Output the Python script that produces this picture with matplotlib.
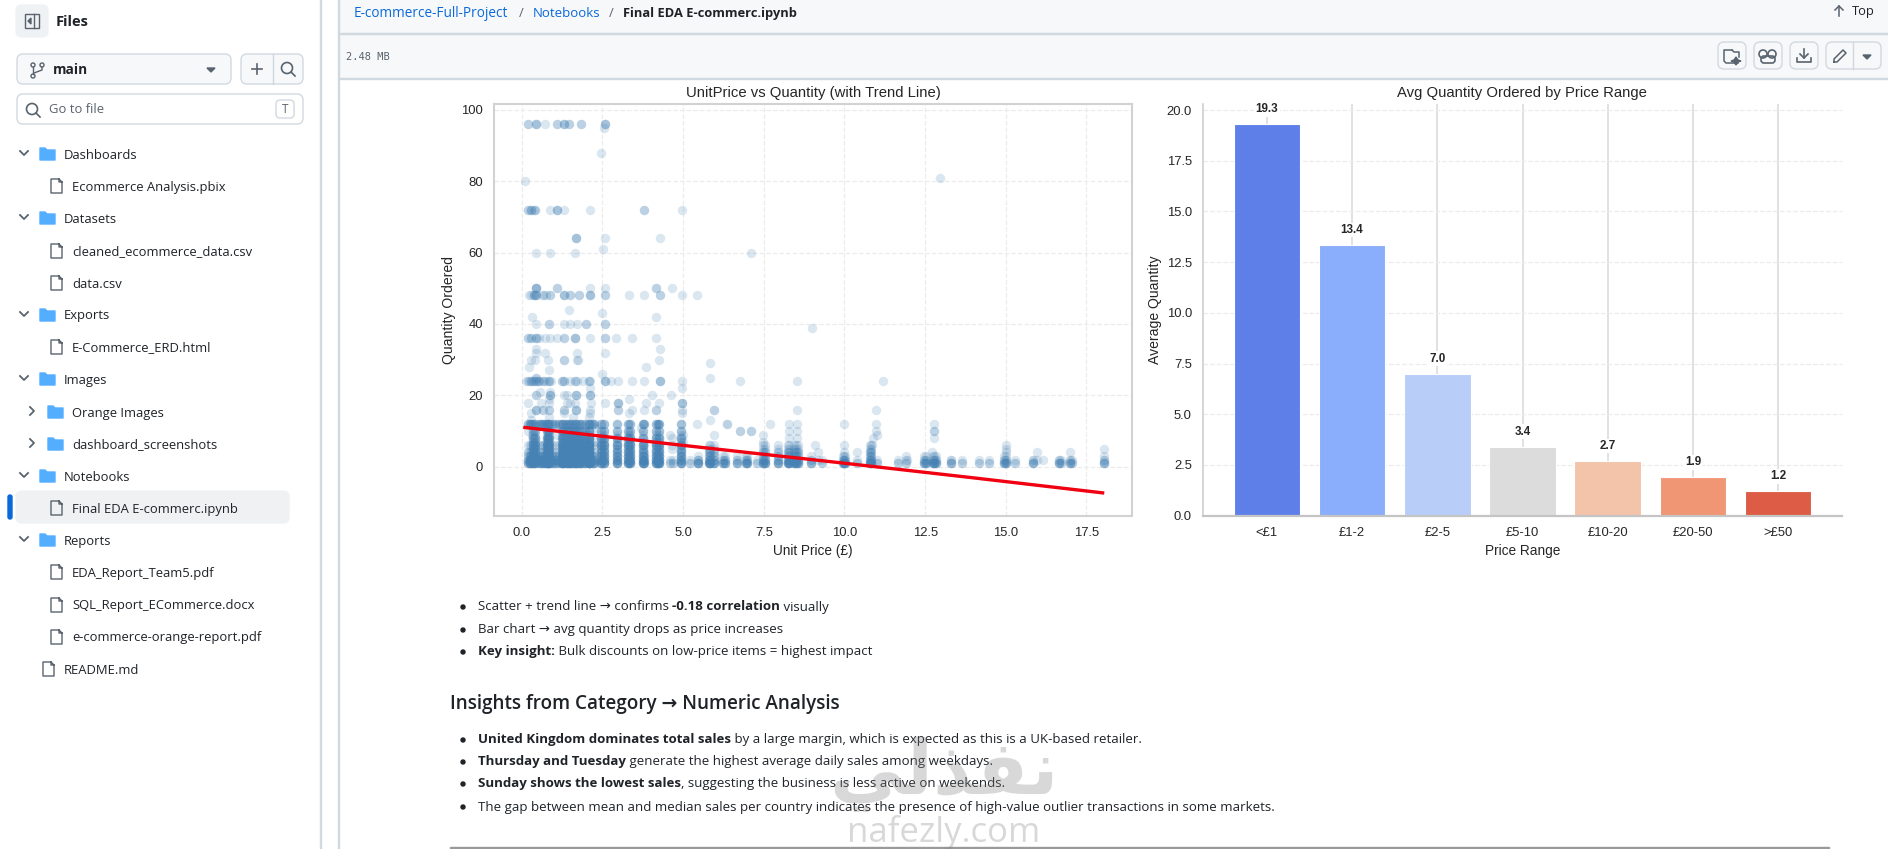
import matplotlib
matplotlib.use("Agg")
from matplotlib import pyplot as plt
from matplotlib.patches import Circle, FancyBboxPatch, Polygon, Rectangle

W, H = 1888, 849
UI_FONT = ["Open Sans", "DejaVu Sans"]
CHART_FONT = ["Liberation Sans", "DejaVu Sans"]

# Scatter values. A price listed twice is a darker dot.
row_quantities = [96, 95, 88, 81, 80, 72, 64, 61, 60, 50, 48, 44, 43, 42, 40, 39, 36, 33, 32, 30, 29, 28, 27, 26, 25, 24, 22, 21, 20, 19, 18, 16, 15, 14, 13]
row_96 = [0.18, 0.18, 0.43, 0.43, 0.43, 0.73, 1.1, 1.1, 1.3, 1.3, 1.3, 1.47, 1.47, 1.84, 1.84, 2.58, 2.58, 2.58]
row_95 = [2.55]
row_88 = [2.46]
row_81 = [12.95]
row_80 = [0.1]
row_72 = [0.18, 0.18, 0.3, 0.3, 0.3, 0.38, 0.41, 0.41, 0.87, 1.1, 1.1, 1.1, 1.3, 2.12, 3.78, 3.78, 4.97]
row_64 = [1.69, 1.69, 1.69, 2.58, 4.28]
row_61 = [2.53]
row_60 = [0.43, 0.87, 1.66, 7.1]
row_50 = [0.45, 0.45, 0.45, 0.45, 1.1, 1.1, 2.12, 2.58, 4.17, 4.17, 4.67]
row_48 = [0.23, 0.3, 0.37, 0.37, 0.37, 0.44, 0.44, 0.44, 0.65, 0.65, 0.75, 0.87, 0.87, 1.3, 1.3, 1.3, 1.5, 1.5, 1.79, 1.79, 2.12, 2.12, 2.12, 2.58, 2.58, 3.32, 3.78, 4.28, 4.28, 4.97, 5.42]
row_44 = [1.48]
row_43 = [2.48]
row_42 = [0.31, 4.17]
row_40 = [0.44, 0.84, 0.84, 1.3, 1.5, 1.72, 1.98, 1.98, 2.58, 2.58]
row_39 = [8.98]
row_36 = [0.18, 0.18, 0.3, 0.3, 0.44, 0.44, 0.44, 0.55, 0.73, 0.87, 1.08, 1.3, 1.3, 1.66, 1.66, 1.66, 2.12, 2.58, 2.58, 2.92, 3.41, 4.17]
row_33 = [0.43, 4.28]
row_32 = [0.43, 0.73, 1.72, 2.58]
row_30 = [0.3, 0.4, 0.81, 1.3, 1.3, 1.72, 1.76, 4.25]
row_29 = [5.83]
row_28 = [0.23, 3.84]
row_27 = [0.84]
row_26 = [2.48]
row_25 = [0.44, 0.44, 5.83]
row_24 = [0.12, 0.18, 0.23, 0.28, 0.28, 0.33, 0.38, 0.38, 0.44, 0.44, 0.5, 0.55, 0.55, 0.65, 0.65, 0.72, 0.8, 0.85, 0.85, 0.9, 1.25, 1.25, 1.3, 1.3, 1.5, 1.66, 1.66, 1.7, 1.9, 2.1, 2.1, 2.12, 2.58, 2.58, 2.58, 2.78, 2.97, 3.41, 3.78, 4.28, 4.28, 4.28, 4.97, 6.77, 8.52, 11.18]
row_22 = [4.98, 2.12]
row_21 = [0.58, 0.87]
row_20 = [0.44, 0.44, 0.87, 0.87, 0.87, 1.3, 1.4, 1.68, 1.68, 1.68, 2.12, 2.12, 2.12, 4.04, 4.64]
row_19 = [0.85, 3.32]
row_18 = [0.2, 0.6, 0.85, 1.4, 1.5, 1.66, 2.15, 2.58, 2.97, 2.97, 2.97, 3.84, 4.25, 4.97, 4.97, 4.97]
row_16 = [0.44, 0.44, 0.44, 0.65, 0.65, 0.85, 0.85, 1.3, 1.3, 1.68, 1.68, 1.68, 2.12, 2.97, 2.97, 3.41, 3.78, 4.17, 4.17, 4.97, 5.96, 8.52, 10.97]
row_15 = [0.3, 1.3, 2.12, 3.32, 4.97]
row_14 = [0.85, 1.6, 2.1]
row_13 = [0.3, 5.83]

# Lower block, column by column: prices that share the same stack of quantities
tall_prices = [0.36, 0.42, 0.79, 0.83, 0.85, 1.25, 1.29, 1.38, 1.45, 1.49, 1.55, 1.65, 1.69, 1.79, 1.85, 1.95, 2.08, 2.1, 2.46, 2.55, 2.95, 3.29, 3.35, 3.75, 4.15, 4.25, 4.95]
tall_stack = [1, 1, 1, 1, 1, 1, 2, 2, 2, 2, 2, 3, 3, 3, 3, 3, 4, 4, 4, 4, 5, 5, 5, 6, 6, 6, 6, 6, 7, 7, 8, 8, 8, 8, 9, 10, 10, 10, 12, 12, 12]
thin_prices = [0.19, 0.25, 0.29, 0.55, 0.59, 0.65, 0.72, 0.95, 1.03, 1.17, 2.17, 2.25, 3.79, 4.21]
thin_stack = [1, 1, 1, 1, 2, 2, 2, 3, 3, 4, 6, 12, 12, 12]
mid_prices = [5.79, 5.85, 5.95, 7.48, 7.53, 7.95, 8.25, 8.29, 8.45, 8.5, 8.55, 10.79, 10.83]
mid_stack = [1, 1, 1, 1, 1, 2, 2, 2, 3, 3, 4, 4, 5, 6]
low_prices = [5.45, 6.25, 6.29, 6.67, 6.95, 6.98, 8.95, 9.95, 9.99, 10.02, 12.46, 12.54, 12.75, 12.79, 12.83, 14.95, 15.0]
low_stack = [1, 1, 1, 1, 2, 2, 3]
single_prices = [4.6, 4.68, 5.2, 5.46, 7.3, 9.3, 10.4, 11.0, 11.65, 11.9, 13.3, 13.3, 13.63, 14.17, 14.48, 15.3, 15.84, 15.84, 16.66, 16.66, 16.7, 17.0, 17.0, 17.04, 18.04, 18.04]
single_stack = [1, 1, 2]
extra_x = [4.66, 4.66, 4.66, 5.42, 5.96, 5.96, 6.35, 6.35, 6.77, 6.77, 7.1, 7.1, 7.48, 7.48, 7.7, 8.27, 8.27, 8.52, 8.52, 8.52, 8.27, 9.1, 9.18, 9.18, 10.0, 10.0, 10.0, 10.4, 10.97, 10.97, 11.0, 10.9, 10.85, 11.9, 11.95, 12.79, 12.79, 12.79, 12.79, 12.7, 15.0, 15.0, 15.0, 15.98, 15.98, 16.16, 17.0, 18.04, 18.04, 0.2, 0.2, 0.32, 1.1, 2.3, 2.3, 3.7, 4.6, 5.0, 5.0]
extra_y = [8, 6, 5, 12, 16, 9, 12, 12, 10, 10, 10, 10, 9, 7, 12, 12, 10, 12, 10, 8, 8, 6, 4, 2, 12, 6, 4, 4, 12, 10, 9, 8, 6, 3, 2, 12, 10, 10, 8, 4, 6, 5, 4, 4, 2, 2, 4, 5, 3, 10, 4, 9, 9, 11, 7, 11, 9, 9, 7]

trend_x = [0.1, 5.0, 10.0, 14.0, 18.0]
trend_y = [11.0, 6.0, 1.0, -3.1, -7.3]
trend_low = [10.8, 5.9, 0.9, -3.3, -7.7]
trend_high = [11.2, 6.1, 1.1, -2.9, -6.9]

price_ranges = ["<£1", "£1-2", "£2-5", "£5-10", "£10-20", "£20-50", ">£50"]
avg_quantity = [19.3, 13.35, 7.0, 3.4, 2.7, 1.9, 1.2]
avg_labels = ["19.3", "13.4", "7.0", "3.4", "2.7", "1.9", "1.2"]
bar_colors = ["#5f7fe8", "#8aaefb", "#b8cdf8", "#dcdcdc", "#f3c4a9", "#f09674", "#dc5c46"]

scatter_xticks = [0.0, 2.5, 5.0, 7.5, 10.0, 12.5, 15.0, 17.5]
scatter_yticks = [0, 20, 40, 60, 80, 100]
bar_yticks = [0.0, 2.5, 5.0, 7.5, 10.0, 12.5, 15.0, 17.5, 20.0]

# Page text
folders = ["Dashboards", "Datasets", "Exports", "Images", "Notebooks", "Reports"]
folder_rows = [154, 218, 315, 379, 476, 540]
nested_folders = ["Orange Images", "dashboard_screenshots"]
nested_rows = [412, 444]
files = ["Ecommerce Analysis.pbix", "cleaned_ecommerce_data.csv", "data.csv", "E-Commerce_ERD.html", "Final EDA E-commerc.ipynb", "EDA_Report_Team5.pdf", "SQL_Report_ECommerce.docx", "e-commerce-orange-report.pdf"]
file_rows = [186, 251, 283, 347, 508, 572, 605, 637]
top_bullets = [
    [("Scatter + trend line → confirms ", False), ("-0.18 correlation", True), (" visually", False)],
    [("Bar chart → avg quantity drops as price increases", False)],
    [("Key insight:", True), (" Bulk discounts on low-price items = highest impact", False)],
]
top_bullet_rows = [607, 630, 652]
lower_bullets = [
    [("United Kingdom dominates total sales", True), (" by a large margin, which is expected as this is a UK-based retailer.", False)],
    [("Thursday and Tuesday", True), (" generate the highest average daily sales among weekdays.", False)],
    [("Sunday shows the lowest sales", True), (", suggesting the business is less active on weekends.", False)],
    [("The gap between mean and median sales per country indicates the presence of high-value outlier transactions in some markets.", False)],
]
lower_bullet_rows = [740, 762, 784, 807]

rows = [row_96, row_95, row_88, row_81, row_80, row_72, row_64, row_61, row_60, row_50, row_48, row_44, row_43, row_42, row_40, row_39, row_36, row_33, row_32, row_30, row_29, row_28, row_27, row_26, row_25, row_24, row_22, row_21, row_20, row_19, row_18, row_16, row_15, row_14, row_13]
scatter_x = []
scatter_y = []
for quantity, prices in zip(row_quantities, rows):
    scatter_x += prices
    scatter_y += [quantity] * len(prices)
for prices, stack in [(tall_prices, tall_stack), (thin_prices, thin_stack), (mid_prices, mid_stack), (low_prices, low_stack), (single_prices, single_stack)]:
    for price in prices:
        scatter_x += [price] * len(stack)
        scatter_y += stack
scatter_x += extra_x
scatter_y += extra_y


def place_axes(fig, left, top, right, bottom):
    return fig.add_axes([left / W, 1 - bottom / H, (right - left) / W, (bottom - top) / H])


fig = plt.figure(figsize=(W / 100, H / 100), dpi=100, facecolor="white")

# Left chart
ax1 = place_axes(fig, 494, 104, 1132, 515.7)
ax1.fill_between(trend_x, trend_low, trend_high, color="red", alpha=0.15, lw=0, zorder=3)
ax1.scatter(scatter_x, scatter_y, s=46, color="#4682b4", alpha=0.2, linewidths=0, zorder=2)
ax1.plot(trend_x, trend_y, color="#f00010", lw=2.4, zorder=4)
ax1.set_xlim(-0.858, 18.91)
ax1.set_ylim(-13.7, 101.6)
ax1.set_xticks(scatter_xticks)
ax1.set_yticks(scatter_yticks)
ax1.grid(True, ls="--", lw=0.9, color="#ececec")
ax1.set_axisbelow(True)
for spine in ax1.spines.values():
    spine.set_color("#d2d2d2")
    spine.set_linewidth(1.5)
ax1.set_title("UnitPrice vs Quantity (with Trend Line)", fontsize=10.7, color="#262626", family=CHART_FONT, pad=5)
ax1.set_xlabel("Unit Price (£)", fontsize=9.8, color="#262626", family=CHART_FONT, labelpad=4)
ax1.set_ylabel("Quantity Ordered", fontsize=10.1, color="#262626", family=CHART_FONT, labelpad=4)

# Right chart
ax2 = place_axes(fig, 1203, 104, 1841.6, 515.7)
bar_positions = list(range(len(price_ranges)))
ax2.bar(bar_positions, avg_quantity, width=0.78, color=bar_colors, edgecolor="white", linewidth=0.8, zorder=2)
ax2.set_xlim(-0.75, 6.745)
ax2.set_ylim(0, 20.3)
ax2.set_xticks(bar_positions)
ax2.set_xticklabels(price_ranges)
ax2.set_yticks(bar_yticks)
ax2.grid(True, axis="y", ls="--", lw=0.9, color="#ececec", zorder=0)
ax2.grid(True, axis="x", ls="-", lw=1.1, color="#d8d8d8", zorder=0)
ax2.set_axisbelow(True)
ax2.spines["top"].set_visible(False)
ax2.spines["right"].set_visible(False)
ax2.spines["left"].set_color("#cfcfcf")
ax2.spines["left"].set_linewidth(1.2)
ax2.spines["bottom"].set_color("#c4c4c4")
ax2.spines["bottom"].set_linewidth(1.6)
for pos, value, label_text in zip(bar_positions, avg_quantity, avg_labels):
    ax2.text(pos, value + 0.74, label_text, ha="center", va="center", fontsize=8.4, fontweight="bold", color="#262626", family=CHART_FONT,
             bbox=dict(facecolor="white", edgecolor="none", pad=1))
ax2.set_title("Avg Quantity Ordered by Price Range", fontsize=10.7, color="#262626", family=CHART_FONT, pad=5)
ax2.set_xlabel("Price Range", fontsize=9.8, color="#262626", family=CHART_FONT, labelpad=4)
ax2.set_ylabel("Average Quantity", fontsize=10.1, color="#262626", family=CHART_FONT, labelpad=3)

for ax in (ax1, ax2):
    ax.tick_params(length=0, pad=8, labelsize=9.4, labelcolor="#262626")
    for tick_label in ax.get_xticklabels() + ax.get_yticklabels():
        tick_label.set_family(CHART_FONT)

# The page around the charts, drawn in pixel coordinates
ui = fig.add_axes([0, 0, 1, 1], facecolor="none", zorder=5)
ui.set_xlim(0, W)
ui.set_ylim(H, 0)
ui.axis("off")
renderer = fig.canvas.get_renderer()
BORDER = "#d1d9e0"
INK = "#1f2328"
MUTED = "#59636e"
LINK = "#0969da"


def box(x0, y0, x1, y1, radius=6, face="white", edge=BORDER, lw=1.0):
    ui.add_patch(FancyBboxPatch((x0, y0), x1 - x0, y1 - y0, boxstyle=f"round,pad=0,rounding_size={radius}", facecolor=face, edgecolor=edge, linewidth=lw))


def label(x, y, text, size=9.4, color=INK, weight="normal", family=UI_FONT, ha="left", **kw):
    return ui.text(x, y + 1, text, fontsize=size, color=color, fontweight=weight, family=family, ha=ha, va="center", **kw)


def folder_icon(x, y):
    ui.add_patch(Polygon([(x, y - 6), (x + 5, y - 6), (x + 7, y - 4), (x + 15, y - 4), (x + 15, y + 6), (x, y + 6)], closed=True, facecolor="#54aeff", edgecolor="#54aeff", linewidth=1, joinstyle="round"))


def file_icon(x, y):
    ui.plot([x + 9, x + 1, x + 1, x + 12, x + 12, x + 9, x + 9, x + 12], [y - 7, y - 7, y + 7, y + 7, y - 4, y - 7, y - 4, y - 4], color=MUTED, lw=1, solid_joinstyle="round")


def chevron(x, y, opened=True):
    if opened:
        ui.plot([x - 4, x, x + 4], [y - 2, y + 2, y - 2], color=MUTED, lw=1.3)
    else:
        ui.plot([x - 2, x + 2, x - 2], [y - 4, y, y + 4], color=MUTED, lw=1.3)


def rich_line(x, y, parts, size=9.5):
    for text, bold in parts:
        t = label(x, y, text.replace(" ", "\u00a0"), size=size, weight="bold" if bold else "normal")
        x = t.get_window_extent(renderer).x1


# Sidebar
ui.add_patch(Rectangle((320, 0), 1, H, color=BORDER))
box(16, 5, 48, 37, radius=6, face="#eff2f5", edge="#eff2f5")
ui.add_patch(Rectangle((25, 14), 14, 14, facecolor="none", edgecolor=MUTED, lw=1))
ui.plot([34, 34], [14, 28], color=MUTED, lw=1)
ui.add_patch(Polygon([(31, 18), (31, 24), (28, 21)], color=MUTED))
label(56, 21, "Files", size=10.5, weight="bold")
box(17, 54, 231, 84, face="#f6f8fa")
for cx, cy in [(33, 65), (42, 65), (33, 76)]:
    ui.add_patch(Circle((cx, cy), 2, facecolor="none", edgecolor=MUTED, lw=1))
ui.plot([33, 33], [67, 74], color=MUTED, lw=1)
ui.plot([42, 42, 34], [67, 70, 73], color=MUTED, lw=1)
label(53, 69, "main", size=9.8, weight="bold")
ui.add_patch(Polygon([(207, 68), (215, 68), (211, 72)], color=MUTED))
box(241, 54, 303, 84, face="#f6f8fa")
ui.plot([272.5, 272.5], [54, 84], color=BORDER, lw=1)
ui.plot([252, 262], [69, 69], color=MUTED, lw=1.2)
ui.plot([257, 257], [64, 74], color=MUTED, lw=1.2)
ui.add_patch(Circle((287, 68), 5.5, facecolor="none", edgecolor=MUTED, lw=1.2))
ui.plot([291, 295], [72, 76], color=MUTED, lw=1.2)
box(17, 94, 303, 124)
ui.add_patch(Circle((32, 109), 5.5, facecolor="none", edgecolor=MUTED, lw=1.2))
ui.plot([36, 40], [113, 117], color=MUTED, lw=1.2)
label(49, 108, "Go to file", color=MUTED)
box(276, 100, 294, 118, radius=4)
label(285, 108, "T", size=8.5, color=MUTED, ha="center")

box(16, 491, 289, 523, radius=6, face="#eff1f3", edge="#eff1f3")
box(8, 495, 12, 519, radius=2, face=LINK, edge=LINK)
for name, y in zip(folders, folder_rows):
    chevron(24, y - 1)
    folder_icon(40, y)
    label(64, y, name)
for name, y in zip(nested_folders, nested_rows):
    chevron(32, y - 1, opened=False)
    folder_icon(48, y)
    label(72, y, name)
for name, y in zip(files, file_rows):
    file_icon(50, y)
    label(72, y, name)
file_icon(42, 669)
label(64, 669, "README.md")

# Header bars
ui.add_patch(Rectangle((338, 0), W - 338, 78, facecolor="#f6f8fa", edgecolor="none"))
ui.add_patch(Rectangle((338, 33), W - 338, 1, color=BORDER))
ui.add_patch(Rectangle((338, 78), W - 338, 1, color=BORDER))
ui.add_patch(Rectangle((338, 0), 1, H, color=BORDER))
label(354, 12, "E-commerce-Full-Project", color=LINK, size=9.85)
label(521, 12, "/", color=MUTED, ha="center")
label(533, 12, "Notebooks", color=LINK, size=9.5)
label(611, 12, "/", color=MUTED, ha="center")
label(623, 12, "Final EDA E-commerc.ipynb", size=9.25, weight="bold")
label(346, 56, "2.48 MB", size=7.5, color=MUTED, family=["DejaVu Sans Mono"])
ui.plot([1839, 1839], [6, 16], color=MUTED, lw=1.1)
ui.plot([1835, 1839, 1843], [10, 6, 10], color=MUTED, lw=1.1)
label(1852, 10, "Top", size=9.3)

for x0, x1 in [(1718, 1746), (1754, 1782), (1790, 1818), (1826, 1881)]:
    box(x0, 42, x1, 69, face="#f6f8fa")
ui.plot([1853, 1853], [42, 69], color=BORDER, lw=1)
ui.plot([1738, 1726, 1724, 1724, 1732], [63, 63, 61, 50, 50], color=MUTED, lw=1.1)
ui.plot([1732, 1734, 1739, 1739], [50, 52, 52, 57], color=MUTED, lw=1.1)
ui.add_patch(Polygon([(1736, 57), (1738, 60), (1741, 61), (1738, 62), (1736, 65), (1734, 62), (1731, 61), (1734, 60)], color=MUTED))
ui.add_patch(Circle((1763, 54), 4, facecolor="none", edgecolor=MUTED, lw=1.2))
ui.add_patch(Circle((1772, 54), 4, facecolor="none", edgecolor=MUTED, lw=1.2))
box(1761, 56, 1775, 63, radius=3, face="none", edge=MUTED, lw=1.2)
ui.plot([1804, 1804], [49, 58], color=MUTED, lw=1.2)
ui.plot([1800, 1804, 1808], [54, 58, 54], color=MUTED, lw=1.2)
ui.plot([1797, 1797, 1811, 1811], [58, 62, 62, 58], color=MUTED, lw=1.2)
ui.plot([1834, 1837, 1846, 1843, 1834, 1834], [62, 62, 53, 50, 59, 62], color=MUTED, lw=1.1)
ui.add_patch(Polygon([(1863, 55), (1871, 55), (1867, 59)], color=MUTED))

# Notebook markdown under the charts
for parts, y in zip(top_bullets, top_bullet_rows):
    ui.add_patch(Circle((463, y), 2, color=INK))
    rich_line(478, y - 1, parts)
label(450, 703, "Insights from Category → Numeric Analysis", size=13.6, weight="semibold")
for parts, y in zip(lower_bullets, lower_bullet_rows):
    ui.add_patch(Circle((463, y), 2, color=INK))
    rich_line(478, y - 1, parts)
ui.add_patch(Rectangle((450, 847), 1379, 2, color="#9a9a9a"))

# Watermark on top of everything
label(944, 773, "\ufef2\ufedf\ufeac\ufed4\ufee7", size=54, weight="bold", color="#808080", family=["DejaVu Sans"], ha="center", alpha=0.3)
label(944, 831, "nafezly.com", size=25, color="#808080", family=UI_FONT, ha="center", alpha=0.3)

fig.savefig("out.png", dpi=100)
